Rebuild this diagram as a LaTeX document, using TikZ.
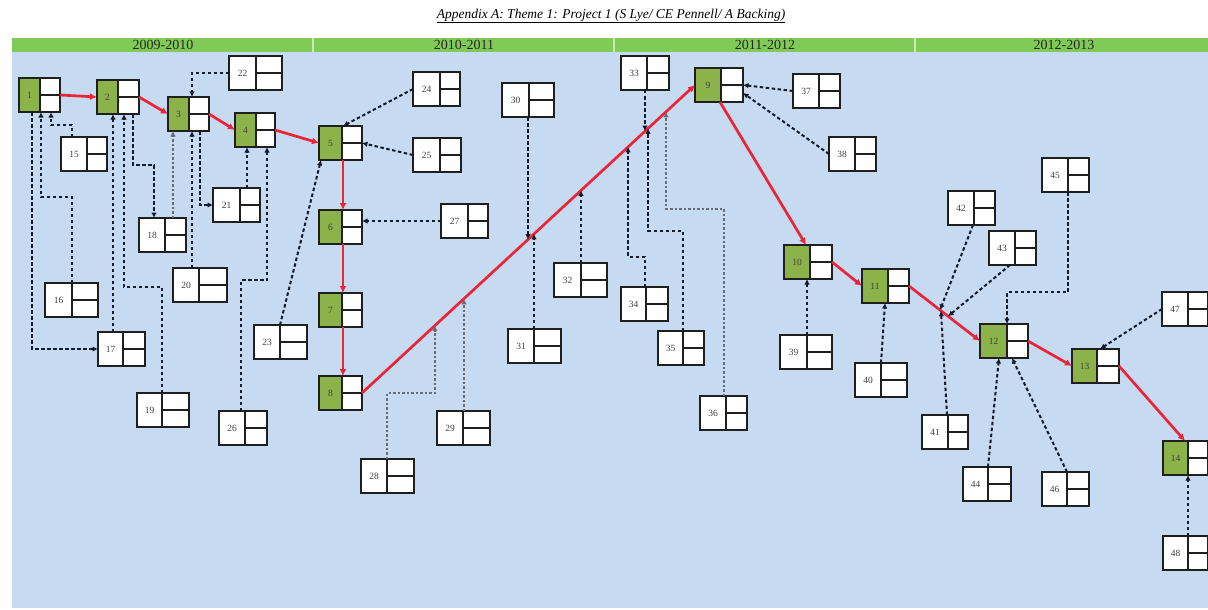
\documentclass[tikz,border=0pt]{standalone}
\usepackage{fontspec}
\setmainfont{Liberation Serif}
\usetikzlibrary{calc,arrows.meta}

\definecolor{hdrgreen}{RGB}{128,202,88}
\definecolor{hdrsep}{RGB}{200,235,180}
\definecolor{bgblue}{RGB}{198,218,241}
\definecolor{cellgreen}{RGB}{140,178,74}
\definecolor{critred}{RGB}{236,36,56}
\definecolor{depcol}{RGB}{20,28,44}

\tikzset{
  boxbase/.style={rectangle, fill=white, inner sep=0pt, outer sep=0pt, minimum height=34pt},
  boxline/.style={draw=black!88, line width=2.1pt},
  numtext/.style={font=\fontsize{9.5}{10}\selectfont, text=black!75, inner sep=0pt},
  hdrtext/.style={font=\fontsize{14}{15}\selectfont, text=black!85, inner sep=0pt},
  dep/.style={draw=depcol, line width=2pt, dash pattern=on 3.5pt off 2.5pt, -{Latex[length=5.5pt,width=5.5pt]}},
  deplight/.style={dep, draw=depcol!65, line width=1.5pt, dash pattern=on 2.5pt off 2pt},
  crit/.style={draw=critred, line width=2.7pt, -{Latex[length=7pt,width=7pt]}},
}

% activity box: left-cell fill, name, left x, top y, left-cell width, total width, number
\newcommand\actbox[7]{%
  \node[boxbase, minimum width=#6pt, anchor=north west] (#2) at (#3,#4) {};
  \fill[#1] (#2.north west) rectangle ([xshift=#5pt]#2.south west);
  \draw[boxline] (#2.north west) rectangle (#2.south east)
     ([xshift=#5pt]#2.north west) -- ([xshift=#5pt]#2.south west)
     ([xshift=#5pt]#2.west) -- (#2.east);
  \node[numtext] (#2-num) at ([xshift=#5pt/2]#2.west) {#7};
}

\begin{document}
\begin{tikzpicture}[x=1pt,y=-1pt]
\useasboundingbox (0,0) rectangle (1208,610);

% title
\node[font=\fontsize{13.5}{14}\selectfont\itshape, inner sep=0pt] (title) at (611,16)
  {\underline{Appendix A: Theme 1: Project 1 (S Lye/ CE Pennell/ A Backing)}};

% year header and timeline background
\fill[bgblue] (12,52) rectangle (1208,608);
\fill[hdrgreen] (12,38) rectangle (1208,52);
\foreach \sx in {313,614,915} \draw[hdrsep, line width=1.2pt] (\sx,38) -- (\sx,52);
\node[hdrtext] (yr1) at (163,45) {2009-2010};
\node[hdrtext] (yr2) at (464,45) {2010-2011};
\node[hdrtext] (yr3) at (765,45) {2011-2012};
\node[hdrtext] (yr4) at (1064,45) {2012-2013};

% critical-path activities
\actbox{cellgreen}{n1}{19}{78}{21}{41}{1}
\actbox{cellgreen}{n2}{97}{80}{21}{42}{2}
\actbox{cellgreen}{n3}{168}{97}{21}{41}{3}
\actbox{cellgreen}{n4}{235}{113}{21}{40}{4}
\actbox{cellgreen}{n5}{319}{126}{23}{43}{5}
\actbox{cellgreen}{n6}{319}{210}{23}{43}{6}
\actbox{cellgreen}{n7}{319}{293}{23}{43}{7}
\actbox{cellgreen}{n8}{319}{376}{23}{43}{8}
\actbox{cellgreen}{n9}{695}{68}{26}{48}{9}
\actbox{cellgreen}{n10}{784}{245}{26}{48}{10}
\actbox{cellgreen}{n11}{862}{269}{26}{47}{11}
\actbox{cellgreen}{n12}{980}{324}{27}{48}{12}
\actbox{cellgreen}{n13}{1072}{349}{25}{47}{13}
\actbox{cellgreen}{n14}{1163}{441}{25}{45}{14}

% other activities
\actbox{white}{n15}{61}{137}{26}{46}{15}
\actbox{white}{n16}{45}{283}{27}{53}{16}
\actbox{white}{n17}{98}{332}{25}{47}{17}
\actbox{white}{n18}{139}{218}{26}{47}{18}
\actbox{white}{n19}{137}{393}{25}{52}{19}
\actbox{white}{n20}{173}{268}{26}{54}{20}
\actbox{white}{n21}{213}{188}{27}{47}{21}
\actbox{white}{n22}{229}{56}{27}{53}{22}
\actbox{white}{n23}{254}{325}{26}{53}{23}
\actbox{white}{n24}{413}{72}{27}{47}{24}
\actbox{white}{n25}{413}{138}{27}{48}{25}
\actbox{white}{n26}{219}{411}{26}{48}{26}
\actbox{white}{n27}{441}{204}{27}{47}{27}
\actbox{white}{n28}{361}{459}{26}{53}{28}
\actbox{white}{n29}{437}{411}{26}{53}{29}
\actbox{white}{n30}{502}{83}{27}{52}{30}
\actbox{white}{n31}{508}{329}{26}{53}{31}
\actbox{white}{n32}{554}{263}{27}{53}{32}
\actbox{white}{n33}{621}{56}{26}{48}{33}
\actbox{white}{n34}{621}{287}{25}{47}{34}
\actbox{white}{n35}{658}{331}{25}{46}{35}
\actbox{white}{n36}{700}{396}{26}{47}{36}
\actbox{white}{n37}{793}{74}{26}{47}{37}
\actbox{white}{n38}{829}{137}{26}{47}{38}
\actbox{white}{n39}{780}{335}{27}{52}{39}
\actbox{white}{n40}{855}{363}{26}{52}{40}
\actbox{white}{n41}{922}{415}{26}{46}{41}
\actbox{white}{n42}{948}{191}{26}{47}{42}
\actbox{white}{n43}{989}{231}{26}{47}{43}
\actbox{white}{n44}{963}{467}{25}{48}{44}
\actbox{white}{n45}{1042}{158}{26}{47}{45}
\actbox{white}{n46}{1042}{472}{25}{47}{46}
\actbox{white}{n47}{1162}{292}{26}{46}{47}
\actbox{white}{n48}{1163}{536}{25}{45}{48}

% critical path
\draw[crit] (n1.east) -- (n2.west);
\draw[crit] (n2.east) -- (n3.west);
\draw[crit] (n3.east) -- (n4.west);
\draw[crit] (n4.east) -- (n5.west);
\draw[crit] ([xshift=24pt]n5.south west) -- ([xshift=24pt]n6.north west);
\draw[crit] ([xshift=24pt]n6.south west) -- ([xshift=24pt]n7.north west);
\draw[crit] ([xshift=24pt]n7.south west) -- ([xshift=24pt]n8.north west);
\draw[crit] (n8.east) -- (n9.west);
\draw[crit] ([xshift=25pt]n9.south west) -- ([xshift=22pt]n10.north west);
\draw[crit] (n10.east) -- (n11.west);
\draw[crit] (n11.east) -- (n12.west);
\draw[crit] (n12.east) -- (n13.west);
\draw[crit] (n13.east) -- ([xshift=22pt]n14.north west);

% points where dependencies join the critical path
\coordinate (k28) at ($(n8.east)!0.219!(n9.west)$);
\coordinate (k29) at ($(n8.east)!0.306!(n9.west)$);
\coordinate (k30) at ($(n8.east)!0.498!(n9.west)$);
\coordinate (k31) at ($(n8.east)!0.517!(n9.west)$);
\coordinate (k32) at ($(n8.east)!0.658!(n9.west)$);
\coordinate (k34) at ($(n8.east)!0.799!(n9.west)$);
\coordinate (k33) at ($(n8.east)!0.850!(n9.west)$);
\coordinate (k35) at ($(n8.east)!0.859!(n9.west)$);
\coordinate (k36) at ($(n8.east)!0.913!(n9.west)$);
\coordinate (k42) at ($(n11.east)!0.437!(n12.west)$);
\coordinate (k41) at ($(n11.east)!0.45!(n12.west)$);
\coordinate (k43) at ($(n11.east)!0.55!(n12.west)$);

% attachment points on activity boxes
\coordinate (a29) at ([xshift=27pt]n29.north west);
\coordinate (a30) at ([xshift=26pt]n30.south west);
\coordinate (a31) at ([xshift=26pt]n31.north west);
\coordinate (a32) at ([xshift=27pt]n32.north west);
\coordinate (a33) at ([xshift=24pt]n33.south west);

% dependencies, 2009-2010
\draw[dep] ([xshift=11pt]n15.north west) -- ++(0,-12) -| ([xshift=32pt]n1.south west);
\draw[dep] ([xshift=27pt]n16.north west) -- ++(0,-86) -| ([xshift=22pt]n1.south west);
\draw[dep] ([xshift=13pt]n1.south west) |- (n17.west);
\draw[dep] ([xshift=15pt]n17.north west) -- ([xshift=16pt]n2.south west);
\draw[dep] ([xshift=25pt]n19.north west) -- ++(0,-106) -| ([xshift=27pt]n2.south west);
\draw[dep] ([xshift=36pt]n2.south west) -- ++(0,51) -| ([xshift=15pt]n18.north west);
\draw[deplight] ([xshift=34pt]n18.north west) -- ([xshift=5pt]n3.south west);
\draw[dep] (n22.west) -| ([xshift=24pt]n3.north west);
\draw[dep] ([xshift=19pt]n20.north west) -- ([xshift=24pt]n3.south west);
\draw[dep] ([xshift=32pt]n3.south west) |- (n21.west);
\draw[dep] ([xshift=34pt]n21.north west) -- ([xshift=12pt]n4.south west);
\draw[dep] ([xshift=22pt]n26.north west) -- ++(0,-131) -| ([xshift=32pt]n4.south west);
\draw[dep] ([xshift=26pt]n23.north west) -- ([xshift=2pt]n5.south west);

% dependencies, 2010-2011
\draw[dep] (n24.west) -- ([xshift=24pt]n5.north west);
\draw[dep] (n25.west) -- (n5.east);
\draw[dep] (n27.west) -- (n27.west -| n6.east);
\draw[deplight] ([xshift=26pt]n28.north west) -- ++(0,-66) -| (k28);
\draw[deplight] (a29) -- (a29 |- k29);
\draw[dep] (a30) -- (a30 |- k30);
\draw[dep] (a31) -- (a31 |- k31);
\draw[dep] (a32) -- (a32 |- k32);
\draw[dep] (a33) -- (a33 |- k33);
\draw[dep] ([xshift=24pt]n34.north west) -- ++(0,-30) -| (k34);
\draw[dep] ([xshift=25pt]n35.north west) -- ++(0,-100) -| (k35);
\draw[deplight] ([xshift=24pt]n36.north west) -- ++(0,-187) -| (k36);

% dependencies, 2011-2013
\draw[dep] (n37.west) -- (n9.east);
\draw[dep] (n38.west) -- ([yshift=-8pt]n9.east);
\draw[dep] ([xshift=27pt]n39.north west) -- ([xshift=23pt]n10.south west);
\draw[dep] ([xshift=26pt]n40.north west) -- ([xshift=23pt]n11.south west);
\draw[dep] ([xshift=25pt]n42.south west) -- (k42);
\draw[dep] ([xshift=21pt]n43.south west) -- (k43);
\draw[dep] ([xshift=25pt]n41.north west) -- (k41);
\draw[dep] ([xshift=26pt]n45.south west) -- ++(0,100) -| ([xshift=27pt]n12.north west);
\draw[dep] ([xshift=25pt]n44.north west) -- ([xshift=19pt]n12.south west);
\draw[dep] ([xshift=25pt]n46.north west) -- ([xshift=32pt]n12.south west);
\draw[dep] (n47.west) -- ([xshift=28pt]n13.north west);
\draw[dep] ([xshift=25pt]n48.north west) -- ([xshift=25pt]n14.south west);

\end{tikzpicture}
\end{document}
